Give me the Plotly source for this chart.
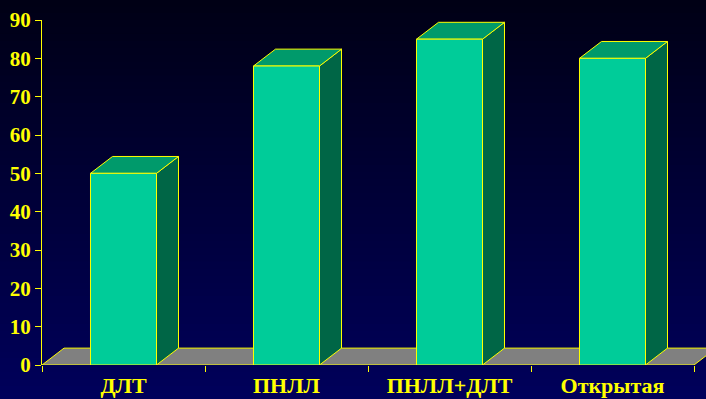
import plotly.graph_objects as go

# ---- data ----
categories = ["ДЛТ", "ПНЛЛ", "ПНЛЛ+ДЛТ", "Открытая"]
values = [50, 78, 85, 80]
y_ticks = list(range(0, 100, 10))

# ---- style ----
FRONT = "#00CC99"
TOP = "#009A6B"
SIDE = "#006646"
FLOOR = "#808080"
EDGE = "#FFFF00"
BAR_W = 0.405      # bar width in category units
DX = 0.135         # depth offset (x, category units)
DY = 4.4           # depth offset (y, value units)
FONT_Y = dict(family="Liberation Serif", size=21, color=EDGE, weight="bold")
FONT_X = dict(family="Liberation Serif", size=22, color=EDGE, weight="bold")

fig = go.Figure()


def poly(xs, ys, color):
    fig.add_trace(go.Scatter(
        x=xs + [xs[0]], y=ys + [ys[0]], mode="lines", fill="toself",
        fillcolor=color, line=dict(color=EDGE, width=1),
        hoverinfo="skip", showlegend=False))


n = len(categories)
# floor
poly([0, n, n + DX, DX], [0, 0, DY, DY], FLOOR)

for i, v in enumerate(values):
    c = i + 0.5
    x0, x1 = c - BAR_W / 2, c + BAR_W / 2
    # side face
    poly([x1, x1 + DX, x1 + DX, x1], [0, DY, v + DY, v], SIDE)
    # top face
    poly([x0, x1, x1 + DX, x0 + DX], [v, v, v + DY, v + DY], TOP)
    # front face
    poly([x0, x1, x1, x0], [0, 0, v, v], FRONT)

# background gradient bands (paper coords)
N = 60
top_c = (0, 0, 20)
bot_c = (0, 0, 92)
y_lo, y_hi = -0.12, 1.08
shapes = []
for k in range(N):
    t = k / (N - 1)
    r = round(bot_c[0] + (top_c[0] - bot_c[0]) * t)
    g = round(bot_c[1] + (top_c[1] - bot_c[1]) * t)
    b = round(bot_c[2] + (top_c[2] - bot_c[2]) * t)
    shapes.append(dict(
        type="rect", xref="paper", yref="paper", layer="below",
        x0=-0.1, x1=1.1,
        y0=y_lo + (y_hi - y_lo) * k / N, y1=y_lo + (y_hi - y_lo) * (k + 1) / N + 0.002,
        fillcolor=f"rgb({r},{g},{b})", line=dict(width=0)))

plot_w = 706 - 42
fig.update_layout(
    width=706, height=399,
    margin=dict(l=42, r=0, t=20, b=34, autoexpand=False),
    paper_bgcolor="#00002A",
    plot_bgcolor="rgba(0,0,0,0)",
    shapes=shapes,
    xaxis=dict(
        range=[0, n * plot_w / 652], tickmode="array",
        tickvals=[i + 0.5 for i in range(n)], ticktext=categories,
        ticks="", showline=False, showgrid=False, zeroline=False,
        tickfont=FONT_X, ticklabelstandoff=5, automargin=False,
        minor=dict(tickmode="array", tickvals=list(range(n + 1)), ticks="outside",
                   ticklen=6, tickwidth=1, tickcolor=EDGE, showgrid=False),
    ),
    yaxis=dict(
        range=[0, 90], tickmode="array", tickvals=y_ticks,
        ticks="outside", ticklen=6, tickwidth=1, tickcolor=EDGE,
        showline=True, linecolor=EDGE, linewidth=1, automargin=False,
        showgrid=False, zeroline=False, tickfont=FONT_Y,
    ),
)

fig.write_html("out.html")
